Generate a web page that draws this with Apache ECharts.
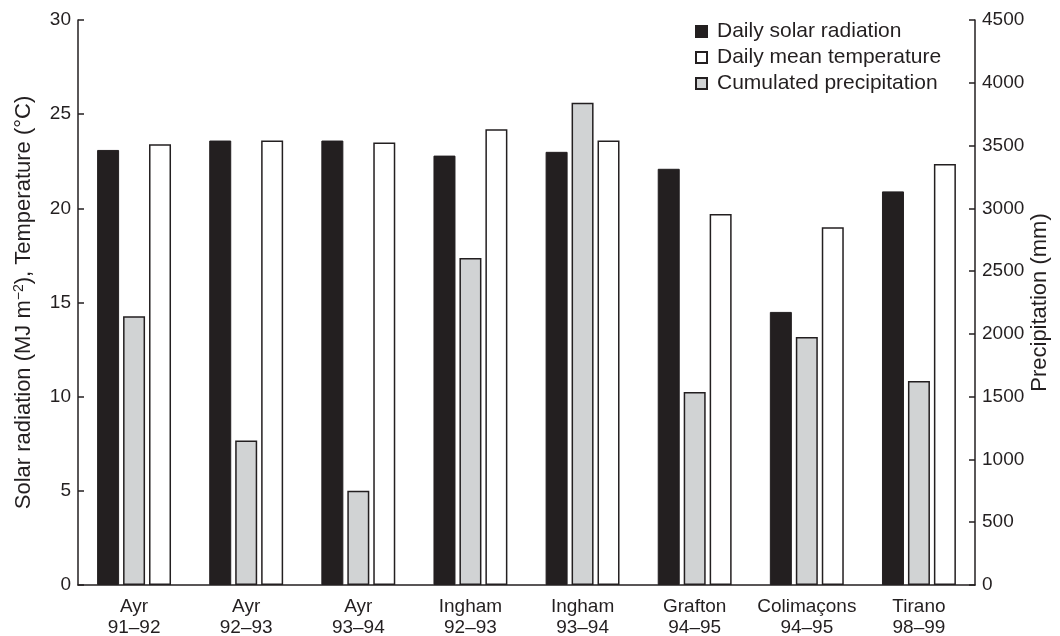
<!DOCTYPE html>
<html>
<head>
<meta charset="utf-8">
<script src="https://cdn.jsdelivr.net/npm/echarts@6/dist/echarts.min.js"></script>
<style>
  html, body { margin: 0; padding: 0; background: #fff; }
  #chart { width: 1060px; height: 636px; }
</style>
</head>
<body>
<div id="chart"></div>
<script>
// Sites and seasons
const sites = ['Ayr\n91–92', 'Ayr\n92–93', 'Ayr\n93–94', 'Ingham\n92–93', 'Ingham\n93–94', 'Grafton\n94–95', 'Colimaçons\n94–95', 'Tirano\n98–99'];
// Daily solar radiation (MJ m−2)
const solarRadiation = [23.1, 23.6, 23.6, 22.8, 23.0, 22.1, 14.5, 20.9];
// Daily mean temperature (°C)
const meanTemperature = [23.4, 23.6, 23.5, 24.2, 23.6, 19.7, 19.0, 22.35];
// Cumulated precipitation (mm)
const precipitation = [2140, 1150, 750, 2605, 3840, 1538, 1975, 1625];
// Tick ranges
const leftAxisMax = 30, leftAxisStep = 5;
const rightAxisMax = 4500, rightAxisStep = 500;

const ink = '#231f20';
const font = '"Liberation Sans", Arial, Helvetica, sans-serif';

const chart = echarts.init(document.getElementById('chart'), null, { renderer: 'canvas' });

const barBase = { type: 'bar', barWidth: 22, barGap: '18%', animation: false };

chart.setOption({
  backgroundColor: '#fff',
  textStyle: { fontFamily: font, color: ink },
  grid: { left: 78, right: 85, top: 20, bottom: 51, containLabel: false, outerBoundsMode: 'none' },
  legend: {
    orient: 'vertical',
    left: 695,
    top: 21,
    padding: 0,
    itemWidth: 11,
    itemHeight: 11,
    itemGap: 5,
    icon: 'rect',
    data: ['Daily solar radiation', 'Daily mean temperature', 'Cumulated precipitation'],
    textStyle: { fontFamily: font, fontSize: 21, lineHeight: 21, color: ink, padding: [0, 0, 0, 5] }
  },
  xAxis: {
    type: 'category',
    data: sites,
    axisLine: { lineStyle: { color: ink, width: 1.5 } },
    axisTick: { inside: true, length: 6, lineStyle: { color: ink, width: 1.5 } },
    axisLabel: { interval: 0, fontFamily: font, fontSize: 19, color: ink, margin: 11, lineHeight: 21 }
  },
  yAxis: [
    {
      type: 'value',
      min: 0, max: leftAxisMax, interval: leftAxisStep,
      splitLine: { show: false },
      axisLine: { show: true, lineStyle: { color: ink, width: 1.5 } },
      axisTick: { show: true, inside: true, length: 6, lineStyle: { color: ink, width: 1.5 } },
      axisLabel: { fontFamily: font, fontSize: 19, color: ink, margin: 7 },
      name: 'Solar radiation (MJ m{sup|−2}), Temperature (°C)',
      nameLocation: 'middle',
      nameGap: 42,
      nameRotate: 90,
      nameMoveOverlap: false,
      nameTextStyle: {
        fontFamily: font, fontSize: 22, color: ink, lineHeight: 24,
        rich: { sup: { fontFamily: font, fontSize: 14, color: ink, verticalAlign: 'top', lineHeight: 16 } }
      }
    },
    {
      type: 'value',
      min: 0, max: rightAxisMax, interval: rightAxisStep,
      position: 'right',
      splitLine: { show: false },
      axisLine: { show: true, lineStyle: { color: ink, width: 1.5 } },
      axisTick: { show: true, inside: true, length: 6, lineStyle: { color: ink, width: 1.5 } },
      axisLabel: { fontFamily: font, fontSize: 19, color: ink, margin: 7, formatter: v => String(v) },
      name: 'Precipitation (mm)',
      nameLocation: 'middle',
      nameGap: 54,
      nameRotate: 90,
      nameMoveOverlap: false,
      nameTextStyle: { fontFamily: font, fontSize: 22, color: ink, lineHeight: 22 }
    }
  ],
  series: [
    Object.assign({}, barBase, {
      name: 'Daily solar radiation',
      yAxisIndex: 0,
      data: solarRadiation,
      itemStyle: { color: ink, borderColor: ink, borderWidth: 1 }
    }),
    Object.assign({}, barBase, {
      name: 'Cumulated precipitation',
      yAxisIndex: 1,
      data: precipitation,
      itemStyle: { color: '#d1d3d4', borderColor: ink, borderWidth: 1.5 }
    }),
    Object.assign({}, barBase, {
      name: 'Daily mean temperature',
      yAxisIndex: 0,
      data: meanTemperature,
      itemStyle: { color: '#ffffff', borderColor: ink, borderWidth: 1.5 }
    })
  ]
});
</script>
</body>
</html>
